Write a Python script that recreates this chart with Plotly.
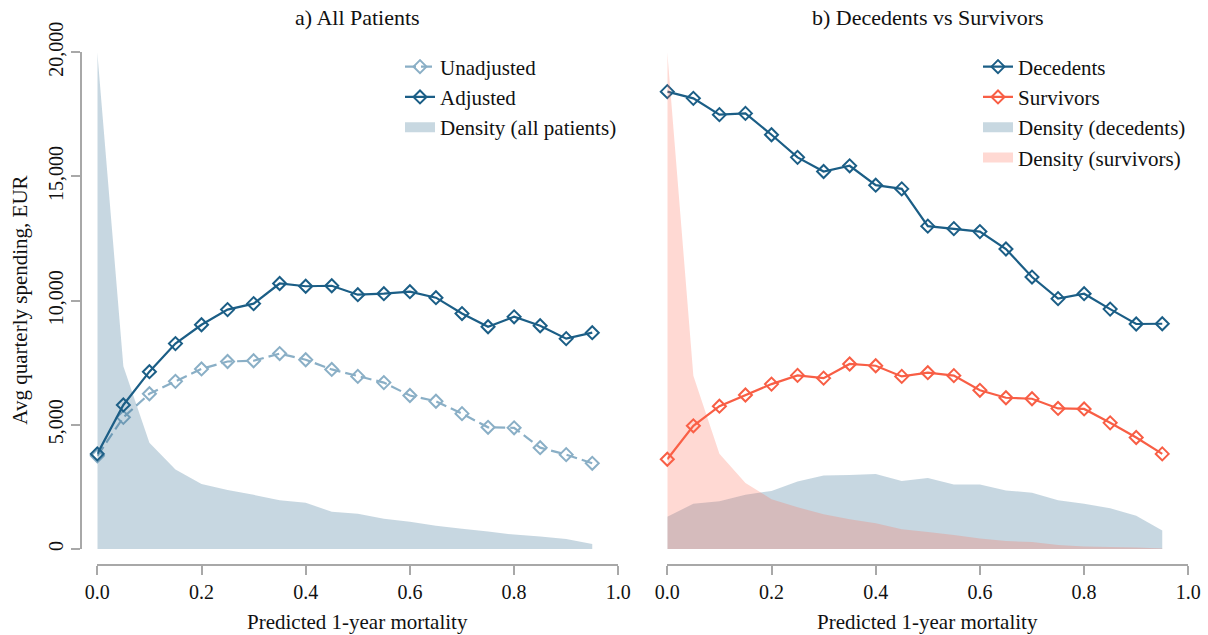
import plotly.graph_objects as go

# ---------------- data ----------------
mortality = [0.00, 0.05, 0.10, 0.15, 0.20, 0.25, 0.30, 0.35, 0.40, 0.45,
             0.50, 0.55, 0.60, 0.65, 0.70, 0.75, 0.80, 0.85, 0.90, 0.95]

unadjusted = [3750, 5300, 6250, 6750, 7250, 7550, 7580, 7870, 7620, 7230,
              6950, 6700, 6180, 5950, 5450, 4900, 4880, 4080, 3800, 3450]
adjusted = [3830, 5800, 7140, 8270, 9030, 9640, 9880, 10690, 10580, 10600,
            10240, 10280, 10360, 10120, 9480, 8950, 9350, 8990, 8470, 8710]
density_all = [1.000, 0.368, 0.214, 0.160, 0.131, 0.119, 0.109, 0.098, 0.093, 0.075,
               0.071, 0.061, 0.055, 0.047, 0.041, 0.035, 0.029, 0.025, 0.020, 0.010]

decedents = [18415, 18145, 17490, 17540, 16680, 15770, 15200, 15430, 14650, 14500,
             13000, 12900, 12780, 12080, 10950, 10080, 10280, 9660, 9060, 9070]
survivors = [3615, 4960, 5750, 6200, 6640, 6990, 6880, 7450, 7380, 6950,
             7100, 6980, 6390, 6090, 6050, 5660, 5640, 5080, 4490, 3830]
density_dec = [0.065, 0.091, 0.096, 0.109, 0.117, 0.136, 0.148, 0.149, 0.151, 0.137,
               0.143, 0.130, 0.130, 0.118, 0.113, 0.098, 0.091, 0.082, 0.067, 0.037]
density_surv = [1.000, 0.349, 0.192, 0.133, 0.100, 0.084, 0.070, 0.060, 0.052, 0.040,
                0.034, 0.028, 0.021, 0.016, 0.014, 0.008, 0.005, 0.004, 0.003, 0.001]

y_ticks = [0, 5000, 10000, 15000, 20000]
y_tick_labels = ["0", "5,000", "10,000", "15,000", "20,000"]
x_ticks = [0.0, 0.2, 0.4, 0.6, 0.8, 1.0]
x_tick_labels = ["0.0", "0.2", "0.4", "0.6", "0.8", "1.0"]

# ---------------- style ----------------
W, H = 1208, 635
FONT = "Liberation Serif"
DARK = "#1b5e86"
LIGHT = "#8aafc6"
RED = "#f85e45"
BLUE_FILL = "rgba(31,95,135,0.25)"
RED_FILL = "rgba(255,103,79,0.25)"
BLUE_PATCH = "#c8d8e1"
RED_PATCH = "#ffd9d3"
AX = "#a8a8a8"
MS = 10


def px_x(p):
    return p / W


def px_y(p):
    return 1 - p / H


y_bottom, y_top = px_y(549), px_y(52.3)
x_axis_pos = px_y(565)
left_dom = [px_x(97.3), px_x(618.3)]
right_dom = [px_x(667.3), px_x(1188.3)]

fig = go.Figure()


def line_trace(y, name, color, xa, ya, legend, rank, dash=None):
    return go.Scatter(x=mortality, y=y, xaxis=xa, yaxis=ya, mode="lines+markers",
                      name=name, legend=legend, legendrank=rank,
                      line=dict(color=color, width=2.2, dash=dash),
                      marker=dict(symbol="diamond-open", size=MS, color=color,
                                  line=dict(width=2, color=color)),
                      cliponaxis=False)


def patch_trace(name, color, xa, ya, legend, rank):
    # legend-only entry showing the density patch
    return go.Scatter(x=[None], y=[None], xaxis=xa, yaxis=ya, mode="lines",
                      name=name, legend=legend, legendrank=rank,
                      line=dict(color=color, width=10))


# left panel
fig.add_trace(go.Scatter(x=mortality, y=density_all, xaxis="x", yaxis="y3",
                         mode="none", fill="tozeroy", fillcolor=BLUE_FILL,
                         showlegend=False, hoverinfo="skip"))
fig.add_trace(line_trace(unadjusted, "Unadjusted", LIGHT, "x", "y", "legend", 1, "11px,5px"))
fig.add_trace(line_trace(adjusted, "Adjusted", DARK, "x", "y", "legend", 2))
fig.add_trace(patch_trace("Density (all patients)", BLUE_PATCH, "x", "y", "legend", 3))

# right panel
fig.add_trace(go.Scatter(x=mortality, y=density_dec, xaxis="x2", yaxis="y4",
                         mode="none", fill="tozeroy", fillcolor=BLUE_FILL,
                         showlegend=False, hoverinfo="skip"))
fig.add_trace(go.Scatter(x=mortality, y=density_surv, xaxis="x2", yaxis="y4",
                         mode="none", fill="tozeroy", fillcolor=RED_FILL,
                         showlegend=False, hoverinfo="skip"))
fig.add_trace(line_trace(decedents, "Decedents", DARK, "x2", "y2", "legend2", 1))
fig.add_trace(line_trace(survivors, "Survivors", RED, "x2", "y2", "legend2", 2))
fig.add_trace(patch_trace("Density (decedents)", BLUE_PATCH, "x2", "y2", "legend2", 3))
fig.add_trace(patch_trace("Density (survivors)", RED_PATCH, "x2", "y2", "legend2", 4))

xaxis_common = dict(range=[0, 1], anchor="free", position=x_axis_pos,
                    showline=True, linecolor=AX, linewidth=1.5,
                    ticks="outside", ticklen=9, tickwidth=1.5, tickcolor=AX,
                    tickvals=x_ticks, ticktext=x_tick_labels,
                    tickfont=dict(family=FONT, size=20, color="#111"),
                    showgrid=False, zeroline=False, fixedrange=True)

legend_common = dict(xanchor="left", yanchor="top", bgcolor="rgba(0,0,0,0)",
                     borderwidth=0, font=dict(family=FONT, size=21, color="#111"),
                     traceorder="normal")

fig.update_layout(
    width=W, height=H,
    margin=dict(l=0, r=0, t=0, b=0, pad=0, autoexpand=False),
    paper_bgcolor="white", plot_bgcolor="rgba(0,0,0,0)",
    font=dict(family=FONT, size=20, color="#111"),
    xaxis=dict(domain=left_dom, **xaxis_common),
    xaxis2=dict(domain=right_dom, **xaxis_common),
    yaxis=dict(domain=[y_bottom, y_top], range=[0, 20000], anchor="free",
               position=px_x(81), showline=True, linecolor=AX, linewidth=1.5,
               ticks="outside", ticklen=9, tickwidth=1.5, tickcolor=AX,
               tickvals=y_ticks, ticktext=y_tick_labels, tickangle=-90,
               tickfont=dict(family=FONT, size=20, color="#111"),
               showgrid=False, zeroline=False, automargin=False),
    yaxis2=dict(domain=[y_bottom, y_top], range=[0, 20000], anchor="x2",
                visible=False, showgrid=False, zeroline=False),
    yaxis3=dict(domain=[y_bottom, y_top], range=[0, 1], anchor="x",
                overlaying="y", visible=False),
    yaxis4=dict(domain=[y_bottom, y_top], range=[0, 1], anchor="x2",
                overlaying="y2", visible=False),
    legend=dict(x=px_x(400), y=px_y(46.5), **legend_common),
    legend2=dict(x=px_x(978), y=px_y(46.5), **legend_common),
    showlegend=True,
    annotations=[
        dict(text="a) All Patients", x=(left_dom[0] + left_dom[1]) / 2, y=px_y(18),
             xref="paper", yref="paper", showarrow=False, xanchor="center", yanchor="middle",
             font=dict(family=FONT, size=22, color="#111")),
        dict(text="b) Decedents vs Survivors", x=(right_dom[0] + right_dom[1]) / 2, y=px_y(18),
             xref="paper", yref="paper", showarrow=False, xanchor="center", yanchor="middle",
             font=dict(family=FONT, size=22, color="#111")),
        dict(text="Predicted 1-year mortality", x=(left_dom[0] + left_dom[1]) / 2, y=px_y(622),
             xref="paper", yref="paper", showarrow=False, xanchor="center", yanchor="middle",
             font=dict(family=FONT, size=21, color="#111")),
        dict(text="Predicted 1-year mortality", x=(right_dom[0] + right_dom[1]) / 2, y=px_y(622),
             xref="paper", yref="paper", showarrow=False, xanchor="center", yanchor="middle",
             font=dict(family=FONT, size=21, color="#111")),
        dict(text="Avg quarterly spending, EUR", x=px_x(20), y=(y_bottom + y_top) / 2,
             xref="paper", yref="paper", showarrow=False, textangle=-90,
             xanchor="center", yanchor="middle",
             font=dict(family=FONT, size=21, color="#111")),
    ],
)

fig.write_html("out.html")
